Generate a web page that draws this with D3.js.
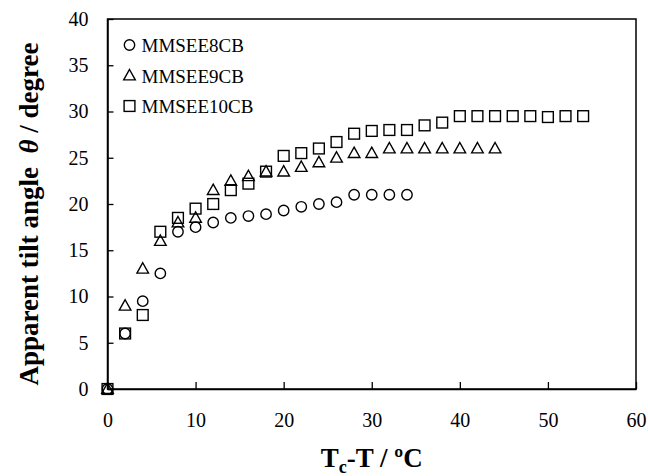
<!DOCTYPE html>
<html>
<head>
<meta charset="utf-8">
<script src="https://cdn.jsdelivr.net/npm/d3@7"></script>
<style>
  body { margin: 0; background: #fff; }
  svg { display: block; font-family: "Liberation Serif", "Times New Roman", serif; }
</style>
</head>
<body>
<div id="chart"></div>
<script>
// tilt angle vs Tc-T, three homologues
var x8 = [0, 2, 4, 6, 8, 10, 12, 14, 16, 18, 20, 22, 24, 26, 28, 30, 32, 34];
var y8 = [0, 6, 9.5, 12.5, 17, 17.5, 18, 18.5, 18.7, 18.9, 19.3, 19.7, 20, 20.2, 21, 21, 21, 21];

var x9 = [0, 2, 4, 6, 8, 10, 12, 14, 16, 18, 20, 22, 24, 26, 28, 30, 32, 34, 36, 38, 40, 42, 44];
var y9 = [0, 9, 13, 16, 18, 18.5, 21.5, 22.5, 23, 23.5, 23.5, 24, 24.5, 25, 25.5, 25.5, 26, 26, 26, 26, 26, 26, 26];

var x10 = [0, 2, 4, 6, 8, 10, 12, 14, 16, 18, 20, 22, 24, 26, 28, 30, 32, 34, 36, 38, 40, 42, 44, 46, 48, 50, 52, 54];
var y10 = [0, 6, 8, 17, 18.5, 19.5, 20, 21.5, 22.2, 23.5, 25.2, 25.5, 26, 26.7, 27.6, 27.9, 28, 28, 28.5, 28.8, 29.5, 29.5, 29.5, 29.5, 29.5, 29.4, 29.5, 29.5];

var seriesNames = ["MMSEE8CB", "MMSEE9CB", "MMSEE10CB"];
var xTicks = [0, 10, 20, 30, 40, 50, 60];
var yTicks = [0, 5, 10, 15, 20, 25, 30, 35, 40];

var W = 648, H = 476;
var margin = {top: 19, right: 12, bottom: 87, left: 107.5};
var w = W - margin.left - margin.right,
    h = H - margin.top - margin.bottom;

var svg = d3.select("#chart").append("svg").attr("width", W).attr("height", H);
var g = svg.append("g").attr("transform", "translate(" + margin.left + "," + margin.top + ")");

var x = d3.scaleLinear().domain([0, 60]).range([0, w]);
var y = d3.scaleLinear().domain([0, 40]).range([h, 0]);

// frame
g.append("rect").attr("width", w).attr("height", h)
  .attr("fill", "none").attr("stroke", "#000").attr("stroke-width", 1.5);

var xAxis = d3.axisBottom(x).tickValues(xTicks).tickSizeInner(-7).tickSizeOuter(0).tickPadding(24);
var yAxis = d3.axisLeft(y).tickValues(yTicks).tickSizeInner(-6).tickSizeOuter(0).tickPadding(19);

var gx = g.append("g").attr("transform", "translate(0," + h + ")").call(xAxis);
var gy = g.append("g").call(yAxis);
[gx, gy].forEach(function(a) {
  a.select(".domain").attr("stroke", "#000").attr("stroke-width", 1.5);
  a.selectAll(".tick line").attr("stroke", "#000").attr("stroke-width", 1.3);
  a.selectAll(".tick text").attr("font-family", "Liberation Serif").attr("font-size", 20).attr("fill", "#000");
});

// markers
var sym = {
  circle: function(sel) { sel.append("circle").attr("r", 5.2); },
  triangle: function(sel) { sel.append("path").attr("d", "M0,-6L5.8,4.4L-5.8,4.4Z"); },
  square: function(sel) { sel.append("rect").attr("x", -5.4).attr("y", -5.4).attr("width", 10.8).attr("height", 10.8); }
};

function drawSeries(xs, ys, shape) {
  var pts = xs.map(function(d, i) { return [d, ys[i]]; });
  g.append("g").selectAll("g").data(pts).join("g")
    .attr("transform", function(d) { return "translate(" + x(d[0]) + "," + y(d[1]) + ")"; })
    .each(function() { sym[shape](d3.select(this)); })
    .selectAll("*").attr("fill", "none").attr("stroke", "#000").attr("stroke-width", 1.4);
}
drawSeries(x10, y10, "square");
drawSeries(x9, y9, "triangle");
drawSeries(x8, y8, "circle");

// legend
var shapes = ["circle", "triangle", "square"];
var leg = g.append("g").attr("transform", "translate(22,26)");
seriesNames.forEach(function(name, i) {
  var row = leg.append("g").attr("transform", "translate(0," + (i * 30.5) + ")");
  var m = row.append("g");
  sym[shapes[i]](m);
  m.selectAll("*").attr("fill", "none").attr("stroke", "#000").attr("stroke-width", 1.4);
  row.append("text").attr("x", 12).attr("y", 7)
    .attr("font-size", 19).attr("fill", "#000").text(name);
});

// axis titles
var xt = svg.append("text")
  .attr("x", margin.left + w / 2).attr("y", 467)
  .attr("text-anchor", "middle").attr("font-weight", "bold").attr("font-size", 27);
xt.append("tspan").text("T");
xt.append("tspan").attr("font-size", 18).attr("dy", 6).text("c");
xt.append("tspan").attr("dy", -6).text("-T / ºC");

var yt = svg.append("text")
  .attr("transform", "translate(38,214) rotate(-90)")
  .attr("text-anchor", "middle").attr("font-weight", "bold").attr("font-size", 27)
  .style("white-space", "pre");
yt.append("tspan").text("Apparent tilt angle  ");
yt.append("tspan").attr("font-style", "italic").text("θ");
yt.append("tspan").text(" / degree");
</script>
</body>
</html>
